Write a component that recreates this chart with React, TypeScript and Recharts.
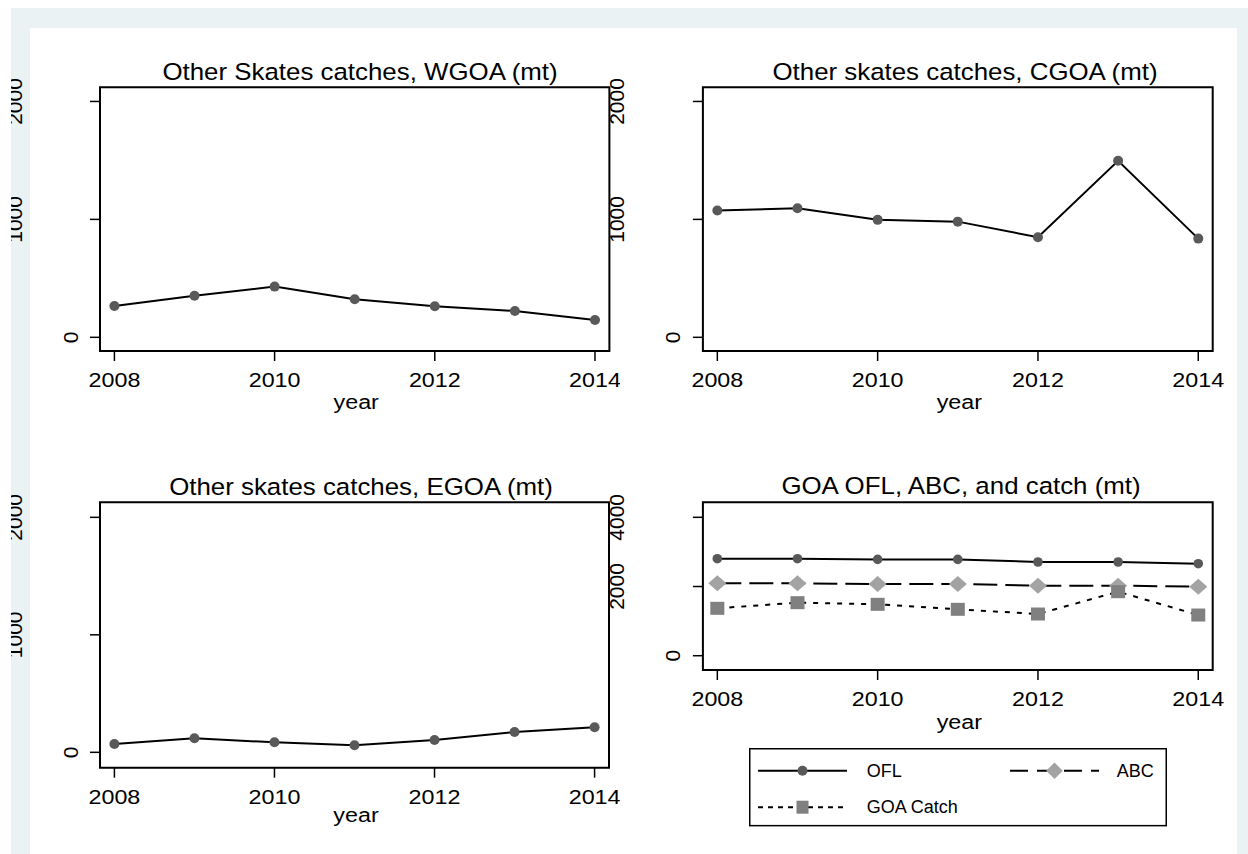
import React from 'react';
import { LineChart, Line, XAxis, YAxis, ReferenceArea, Legend } from 'recharts';

// ---------- data ----------
const years = [2008, 2009, 2010, 2011, 2012, 2013, 2014];
const wgoaCatch = [266, 353, 430, 323, 263, 223, 147];
const cgoaCatch = [1075, 1095, 996, 981, 849, 1497, 837];
const egoaCatch = [71, 119, 85, 60, 105, 173, 213];
const goaOfl = [2803, 2803, 2784, 2784, 2708, 2708, 2659];
const goaAbc = [2092, 2092, 2073, 2073, 2025, 2025, 1994];
const goaTotalCatch = [1370, 1533, 1485, 1341, 1205, 1850, 1176];
const xTicks = [2008, 2010, 2012, 2014];
const areaTicks = [0, 1000, 2000];
const goaTicks = [0, 2000, 4000];
const titles = [
  'Other Skates catches, WGOA (mt)',
  'Other skates catches, CGOA (mt)',
  'Other skates catches, EGOA (mt)',
  'GOA OFL, ABC, and catch (mt)',
];
const seriesNames = ['OFL', 'ABC', 'GOA Catch'];
const xLabel = 'year';

// ---------- built rows ----------
const wgoaData = years.map((year, i) => ({ year, value: wgoaCatch[i] }));
const cgoaData = years.map((year, i) => ({ year, value: cgoaCatch[i] }));
const egoaData = years.map((year, i) => ({ year, value: egoaCatch[i] }));
const goaData = years.map((year, i) => ({
  year,
  ofl: goaOfl[i],
  abc: goaAbc[i],
  catch: goaTotalCatch[i],
}));

// ---------- styles ----------
const FONT = '"Liberation Sans", Arial, Helvetica, sans-serif';
const FRAME_X = 11;
const FRAME_Y = 8;
const X_DOMAIN: [number, number] = [2007.82, 2014.18];
const STRETCH = 1.11;

type Shape = 'circle' | 'diamond' | 'square';
type LineCfg = {
  key: string;
  name: string;
  dash?: string;
  legendDash?: string;
  shape: Shape;
  fill: string;
  w: number;
  h: number;
};

const singleLine = (name: string): LineCfg[] => [
  { key: 'value', name, shape: 'circle', fill: '#595959', w: 5, h: 5 },
];

const goaLines: LineCfg[] = [
  { key: 'ofl', name: seriesNames[0], shape: 'circle', fill: '#595959', w: 4.8, h: 4.8 },
  { key: 'abc', name: seriesNames[1], dash: '24 8', legendDash: '18 9', shape: 'diamond', fill: '#a3a3a3', w: 9, h: 8 },
  { key: 'catch', name: seriesNames[2], dash: '5 7', legendDash: '5 5', shape: 'square', fill: '#808080', w: 7, h: 6.5 },
];

function Marker({ shape, cx, cy, fill, w, h }: { shape: Shape; cx: number; cy: number; fill: string; w: number; h: number }) {
  if (cx == null || cy == null || isNaN(cx) || isNaN(cy)) return null;
  if (shape === 'diamond') {
    return <polygon points={`${cx},${cy - h} ${cx + w},${cy} ${cx},${cy + h} ${cx - w},${cy}`} fill={fill} />;
  }
  if (shape === 'square') {
    return <rect x={cx - w} y={cy - h} width={2 * w} height={2 * h} fill={fill} />;
  }
  return <ellipse cx={cx} cy={cy} rx={w} ry={h} fill={fill} />;
}

const XTick = (p: any) => {
  const { x, y, payload } = p;
  return (
    <text
      transform={`translate(${x},${y + 26}) scale(${STRETCH},1)`}
      textAnchor="middle"
      fontSize={21}
      fontFamily={FONT}
      fill="#000"
    >
      {String(payload.value)}
    </text>
  );
};

const YTick = (p: any) => {
  const { x, y, payload } = p;
  const s = String(payload.value);
  const off = s.length > 1 ? 76 : 20;
  return (
    <text
      transform={`translate(${x - off},${y}) rotate(-90)`}
      y={7.5}
      textAnchor="middle"
      fontSize={21}
      fontFamily={FONT}
      fill="#000"
    >
      {s}
    </text>
  );
};

const LEG_W = 418;
const LEG_H = 78.4;
const legColX = [9, 261];
const legTextX = [117.7, 367.7];
const legRowY = [22.7, 59.2];
const legMarker: Record<string, { w: number; h: number }> = {
  circle: { w: 5, h: 5 },
  diamond: { w: 8.3, h: 8.3 },
  square: { w: 6, h: 6.5 },
};

const renderLegend = (props: any) => {
  const payload: any[] = props.payload || [];
  const ordered = goaLines
    .map((g) => ({ cfg: g, entry: payload.find((e) => e.value === g.name) }))
    .filter((o) => o.entry);
  return (
    <svg width={LEG_W} height={LEG_H} style={{ display: 'block' }}>
      <rect x={0.75} y={0.75} width={LEG_W - 1.5} height={LEG_H - 1.5} fill="#fff" stroke="#000" strokeWidth={1.5} />
      {ordered.map(({ cfg, entry }, i) => {
        const col = i % 2;
        const row = Math.floor(i / 2);
        const x0 = legColX[col];
        const yy = legRowY[row];
        const m = legMarker[cfg.shape];
        return (
          <g key={`leg-${i}`}>
            <line x1={x0} x2={x0 + 89} y1={yy} y2={yy} stroke="#000" strokeWidth={2} strokeDasharray={cfg.legendDash} />
            <Marker shape={cfg.shape} cx={x0 + 44.5} cy={yy} fill={cfg.fill} w={m.w} h={m.h} />
            <text x={legTextX[col]} y={yy} dominantBaseline="central" fontSize={18} fontFamily={FONT} fill="#000">
              {entry.value}
            </text>
          </g>
        );
      })}
    </svg>
  );
};

type PanelSpec = {
  left: number;
  top: number;
  width: number;
  height: number;
  margin: { top: number; right: number; bottom: number; left: number };
  data: any[];
  yDomain: [number, number];
  yTicks: number[];
  lines: LineCfg[];
  yearDy: number;
  legend?: { left: number; top: number };
};

function Panel({ spec }: { spec: PanelSpec }) {
  const { left, top, width, height, margin, data, yDomain, yTicks, lines, yearDy, legend } = spec;
  return (
    <div style={{ position: 'absolute', left: left - FRAME_X, top: top - FRAME_Y }}>
      <LineChart width={width} height={height} data={data} margin={margin}>
        <XAxis
          dataKey="year"
          type="number"
          domain={X_DOMAIN}
          ticks={xTicks}
          interval={0}
          allowDataOverflow
          height={1}
          tickSize={10}
          tickMargin={0}
          axisLine={false}
          tickLine={{ stroke: '#000', strokeWidth: 1.5 }}
          tick={(p: any) => <XTick {...p} />}
          label={(p: any) => {
            const vb = p.viewBox || {};
            return (
              <text
                transform={`translate(${vb.x + vb.width / 2 + 1.5},${vb.y + yearDy}) scale(${STRETCH},1)`}
                textAnchor="middle"
                fontSize={21}
                fontFamily={FONT}
                fill="#000"
              >
                {xLabel}
              </text>
            );
          }}
        />
        <YAxis
          type="number"
          domain={yDomain}
          ticks={yTicks}
          interval={0}
          allowDataOverflow
          width={1}
          tickSize={10}
          tickMargin={0}
          axisLine={false}
          tickLine={{ stroke: '#000', strokeWidth: 1.5 }}
          tick={(p: any) => <YTick {...p} />}
        />
        <ReferenceArea
          x1={X_DOMAIN[0]}
          x2={X_DOMAIN[1]}
          y1={yDomain[0]}
          y2={yDomain[1]}
          fill="none"
          fillOpacity={0}
          stroke="#000"
          strokeWidth={2}
          ifOverflow="visible"
        />
        {lines.map((l) => (
          <Line
            key={l.key}
            type="linear"
            dataKey={l.key}
            name={l.name}
            stroke="#000"
            strokeWidth={2}
            strokeDasharray={l.dash}
            isAnimationActive={false}
            activeDot={false}
            dot={(p: any) => (
              <Marker key={`${l.key}-${p.index}`} shape={l.shape} cx={p.cx} cy={p.cy} fill={l.fill} w={l.w} h={l.h} />
            )}
          />
        ))}
        {legend && (
          <Legend
            layout="horizontal"
            verticalAlign="middle"
            align="center"
            wrapperStyle={{ left: legend.left, top: legend.top, width: LEG_W, height: LEG_H }}
            content={renderLegend}
          />
        )}
      </LineChart>
    </div>
  );
}

const panels: PanelSpec[] = [
  {
    left: 0, top: 40, width: 620, height: 400,
    margin: { top: 47.3, right: 10.6, bottom: 88, left: 99 },
    data: wgoaData, yDomain: [-116, 2120], yTicks: areaTicks, lines: singleLine('WGOA'), yearDy: 58,
  },
  {
    left: 600, top: 40, width: 637, height: 400,
    margin: { top: 47.3, right: 24.3, bottom: 88, left: 101.9 },
    data: cgoaData, yDomain: [-116, 2120], yTicks: areaTicks, lines: singleLine('CGOA'), yearDy: 58,
  },
  {
    left: 0, top: 440, width: 620, height: 414,
    margin: { top: 62.3, right: 11, bottom: 85.3, left: 99 },
    data: egoaData, yDomain: [-131, 2128], yTicks: areaTicks, lines: singleLine('EGOA'), yearDy: 54.5,
  },
  {
    left: 600, top: 440, width: 637, height: 414,
    margin: { top: 62.3, right: 24.3, bottom: 183, left: 101.9 },
    data: goaData, yDomain: [-413, 4434], yTicks: goaTicks, lines: goaLines, yearDy: 59,
    legend: { left: 149, top: 308.3 },
  },
];

const titlePos = [
  { x: 360, y: 80 },
  { x: 965, y: 80 },
  { x: 361, y: 495 },
  { x: 961, y: 494.3 },
];

export default function App() {
  return (
    <div
      style={{
        position: 'absolute',
        left: FRAME_X,
        top: FRAME_Y,
        width: 1248 - FRAME_X,
        height: 854 - FRAME_Y,
        overflow: 'hidden',
        background: '#eaf2f3',
        fontFamily: FONT,
      }}
    >
      <div style={{ position: 'absolute', left: 30 - FRAME_X, top: 28 - FRAME_Y, width: 1237 - 30, height: 854, background: '#fff' }} />
      {panels.map((p, i) => (
        <Panel key={i} spec={p} />
      ))}
      <svg
        width={1248}
        height={854}
        style={{ position: 'absolute', left: -FRAME_X, top: -FRAME_Y, pointerEvents: 'none' }}
      >
        {titles.map((t, i) => (
          <text
            key={i}
            transform={`translate(${titlePos[i].x},${titlePos[i].y}) scale(${STRETCH},1)`}
            textAnchor="middle"
            fontSize={23.3}
            fontFamily={FONT}
            fill="#000"
          >
            {t}
          </text>
        ))}
      </svg>
    </div>
  );
}
